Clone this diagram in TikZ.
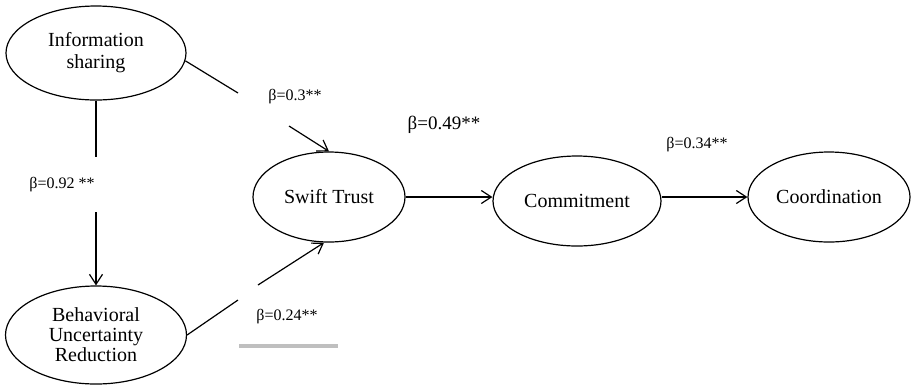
\documentclass[tikz,border=0pt]{standalone}
\usepackage{fontspec}
\setmainfont{Liberation Serif}
\usetikzlibrary{shapes.geometric,arrows.meta}
\tikzset{
  construct/.style={draw, ellipse, line width=1.2pt, inner sep=0pt, align=center,
    font=\fontsize{20}{22}\selectfont},
  path/.style={line width=1.2pt},
  arr/.style={line width=1.2pt, -{Straight Barb[length=10pt,width=13pt,line width=1.2pt]}},
  coef/.style={inner sep=0pt, font=\fontsize{16}{18}\selectfont},
  bigcoef/.style={inner sep=0pt, font=\fontsize{19}{21}\selectfont}
}
\begin{document}
\begin{tikzpicture}[x=1pt,y=-1pt]
\useasboundingbox (0,0) rectangle (912,384);
% constructs
\node[construct, minimum width=180pt, minimum height=94pt] (info) at (96,53) {Information\\sharing};
\node[construct, minimum width=181pt, minimum height=98pt, font=\fontsize{20}{20}\selectfont] (bur) at (96,335) {Behavioral\\Uncertainty\\Reduction};
\node[construct, minimum width=152pt, minimum height=90pt] (swift) at (329,197) {Swift Trust};
\node[construct, minimum width=168pt, minimum height=90pt] (commit) at (577,201) {Commitment};
\node[construct, minimum width=162pt, minimum height=90pt] (coord) at (829,197) {Coordination};
% free ends
\coordinate (c1) at (238,93);
\coordinate (c2) at (289,126);
\coordinate (c3) at (96,157);
\coordinate (c4) at (96,212);
\coordinate (c5) at (238,300);
\coordinate (c6) at (258,285);
% connectors
\draw[path] (info.-5) -- (c1);
\draw[arr] (c2) -- (swift.north);
\draw[path] (info.south) -- (c3);
\draw[arr] (c4) -- (bur.north);
\draw[path] (bur.east) -- (c5);
\draw[arr] (c6) -- ([xshift=-5pt]swift.south);
\draw[arr] (swift.east) -- (swift.east -| commit.west);
\draw[arr] (commit.east |- coord.west) -- (coord.west);
% labels
\node[coef] (l1) at (295,97) {β=0.3**};
\node[coef] (l2) at (62,185) {β=0.92 **};
\node[coef] (l3) at (287,317) {β=0.24**};
\node[bigcoef] (l4) at (444,125) {β=0.49**};
\node[coef] (l5) at (697,145) {β=0.34**};
% grey bar
\draw[line width=4pt, black!25] (239,346) -- (338,346);
\end{tikzpicture}
\end{document}
